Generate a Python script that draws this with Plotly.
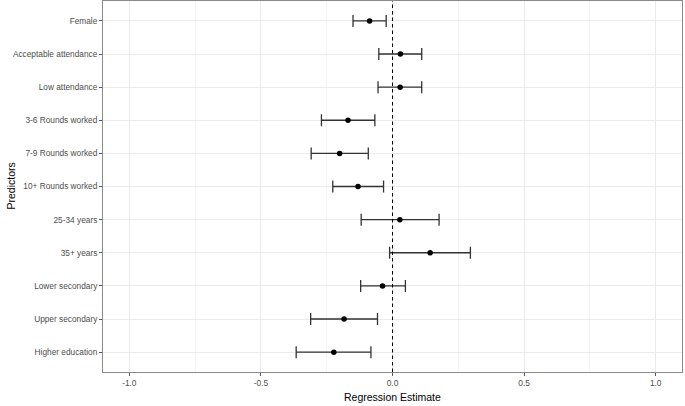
import plotly.graph_objects as go

predictors = ["Female", "Acceptable attendance", "Low attendance", "3-6 Rounds worked",
              "7-9 Rounds worked", "10+ Rounds worked", "25-34 years", "35+ years",
              "Lower secondary", "Upper secondary", "Higher education"]
estimate = [-0.087, 0.030, 0.029, -0.169, -0.201, -0.131, 0.028, 0.143, -0.038, -0.184, -0.223]
lower = [-0.150, -0.052, -0.055, -0.270, -0.309, -0.227, -0.119, -0.011, -0.121, -0.311, -0.366]
upper = [-0.024, 0.111, 0.111, -0.067, -0.092, -0.034, 0.177, 0.296, 0.049, -0.057, -0.082]

x_ticks = [-1.0, -0.5, 0.0, 0.5, 1.0]
x_ticklabels = ["-1.0", "-0.5", "0.0", "0.5", "1.0"]

n = len(predictors)
ypos = [n - i for i in range(n)]

W, H = 685, 406
ML, MR, MT, MB = 103, 3, 1, 34
pw, ph = W - ML - MR, H - MT - MB

fig = go.Figure()
fig.add_trace(go.Scatter(
    x=estimate, y=ypos, mode="markers",
    marker=dict(color="black", size=5.5),
    error_x=dict(type="data", symmetric=False,
                 array=[u - e for u, e in zip(upper, estimate)],
                 arrayminus=[e - l for l, e in zip(lower, estimate)],
                 color="#333333", thickness=1.3, width=6),
    showlegend=False, hoverinfo="skip",
))

fig.add_shape(type="line", x0=0, x1=0, y0=0, y1=1, yref="paper", xref="x",
              line=dict(color="black", width=1, dash="3.5px,3px"))

font = "Liberation Sans, Arial, Helvetica, sans-serif"
fig.add_annotation(text="Regression Estimate", x=0, xref="x", y=-(397 - (H - MB)) / ph, yref="paper",
                   xanchor="center", yanchor="middle",
                   showarrow=False, font=dict(size=10.5, color="black"))
fig.add_annotation(text="Predictors", x=-(ML - 10) / pw, xref="paper", y=0.5, yref="paper",
                   xanchor="center", yanchor="middle",
                   textangle=-90, showarrow=False, font=dict(size=10.5, color="black"))

fig.update_layout(
    width=W, height=H,
    margin=dict(l=ML, r=MR, t=MT, b=MB, autoexpand=False),
    plot_bgcolor="white", paper_bgcolor="white",
    font=dict(family=font, size=8.3, color="#4D4D4D"),
    xaxis=dict(range=[-1.1, 1.1], tickvals=x_ticks, ticktext=x_ticklabels, automargin=False,
               showgrid=True, gridcolor="#EBEBEB", gridwidth=1,
               minor=dict(showgrid=True, gridcolor="#F4F4F4", gridwidth=0.6, dtick=0.25, tick0=-1),
               zeroline=False, showline=True, linecolor="#8A8A8A", linewidth=1, mirror=True,
               ticks="outside", ticklen=3, tickcolor="#555555"),
    yaxis=dict(range=[0.4, n + 0.6], tickvals=ypos, ticktext=predictors, automargin=False,
               showgrid=True, gridcolor="#EBEBEB", gridwidth=1,
               zeroline=False, showline=True, linecolor="#8A8A8A", linewidth=1, mirror=True,
               ticks="outside", ticklen=3, tickcolor="#555555"),
)

fig.write_html("out.html", config={"displayModeBar": False},
               post_script="document.body.style.margin='0px';document.body.style.overflow='hidden';")
